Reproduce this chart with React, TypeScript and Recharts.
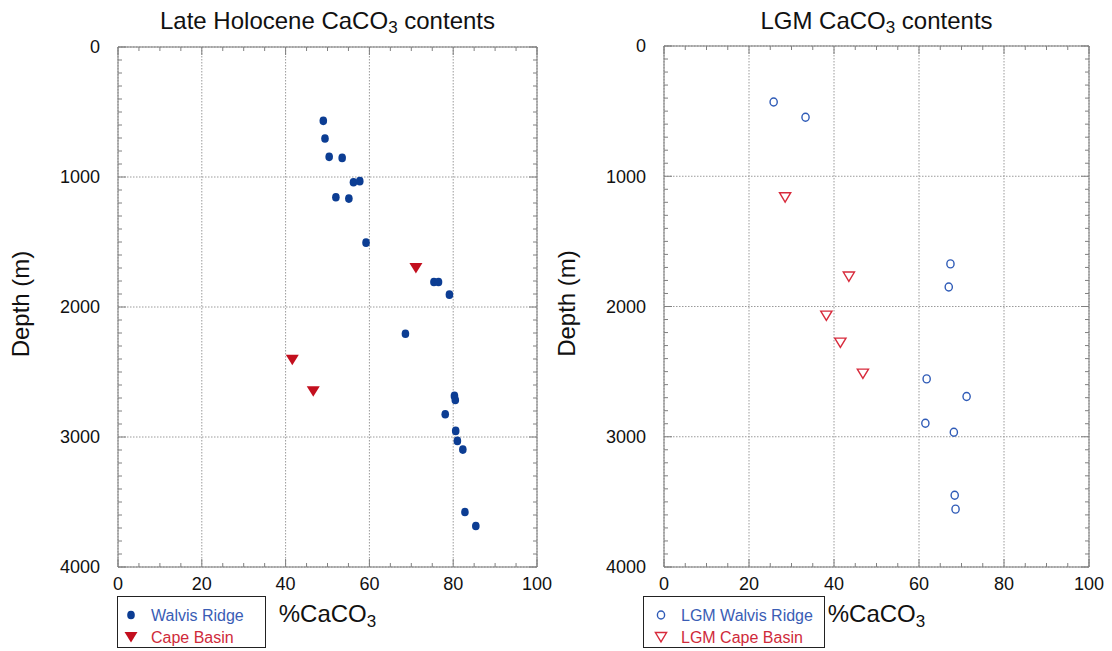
import React from 'react';
import { ScatterChart, Scatter, XAxis, YAxis, CartesianGrid, ReferenceArea } from 'recharts';

const FONT = '"Liberation Sans", Arial, Helvetica, sans-serif';

// Late Holocene, %CaCO3 vs. depth (m)
const holWalvisPct = [49.0, 49.4, 50.4, 53.5, 56.2, 57.7, 52.0, 55.1, 59.2, 75.4, 76.5, 79.1, 68.6, 80.3, 80.5, 78.1, 80.6, 81.0, 82.3, 82.8, 85.4];
const holWalvisDepth = [568, 704, 845, 853, 1040, 1032, 1156, 1166, 1505, 1808, 1808, 1905, 2206, 2684, 2715, 2825, 2953, 3030, 3097, 3577, 3685];
const holCapePct = [71.1, 41.6, 46.6];
const holCapeDepth = [1700, 2406, 2648];

// LGM
const lgmWalvisPct = [25.8, 33.3, 67.4, 67.0, 61.8, 71.2, 61.5, 68.2, 68.4, 68.6];
const lgmWalvisDepth = [430, 547, 1673, 1850, 2556, 2691, 2896, 2965, 3449, 3556];
const lgmCapePct = [28.5, 43.5, 38.2, 41.5, 46.8];
const lgmCapeDepth = [1161, 1770, 2070, 2277, 2515];

const pctTicks = [0, 20, 40, 60, 80, 100];
const depthTicks = [0, 1000, 2000, 3000, 4000];
const pctMinor = Array.from({ length: 21 }, (_, i) => i * 5);
const depthMinor = Array.from({ length: 41 }, (_, i) => i * 100);
const PCT_MAX = 100;
const DEPTH_MAX = 4000;

const zip = (pct: number[], depth: number[]) => pct.map((p, i) => ({ pct: p, depth: depth[i] }));

const BLUE = '#0c3d93';
const RED = '#c30f1e';
const OPEN_BLUE = '#2f5bb7';
const OPEN_RED = '#d82b3c';
const TEXT_BLUE = '#3a5db5';
const TEXT_RED = '#cf2a3a';
const TICK_GRAY = '#808080';
const CHART_H = 651;
const X_AXIS_H = 84;
const RIGHT_PAD = 23;

const Dot = ({ cx, cy }: any) => <ellipse cx={cx} cy={cy} rx={3.8} ry={4.3} fill={BLUE} />;
const Tri = ({ cx, cy }: any) => (
  <polygon points={`${cx - 6.5},${cy - 5} ${cx + 6.5},${cy - 5} ${cx},${cy + 5.5}`} fill={RED} />
);
const OpenDot = ({ cx, cy }: any) => (
  <ellipse cx={cx} cy={cy} rx={3.6} ry={4} fill="none" stroke={OPEN_BLUE} strokeWidth={1.4} />
);
const OpenTri = ({ cx, cy }: any) => (
  <polygon
    points={`${cx - 5.6},${cy - 4.5} ${cx + 5.6},${cy - 4.5} ${cx},${cy + 4.8}`}
    fill="none"
    stroke={OPEN_RED}
    strokeWidth={1.4}
  />
);

const xLabel = ({ viewBox }: any) => (
  <text x={viewBox.x + viewBox.width / 2} y={viewBox.y + 55} textAnchor="middle" fontSize={24} fontFamily={FONT} fill="#111">
    %CaCO<tspan fontSize={17} dy={5}>3</tspan>
  </text>
);

const yLabel = ({ viewBox }: any) => {
  const x = viewBox.x + viewBox.width - 89;
  const y = viewBox.y + viewBox.height / 2 - 3;
  return (
    <text x={x} y={y} transform={`rotate(-90, ${x}, ${y})`} textAnchor="middle" fontSize={24} fontFamily={FONT} fill="#111">
      Depth (m)
    </text>
  );
};

// x ticks: inward marks on bottom and top edge, numbers only every 20 %
const makePctTick = (plotTop: number, plotBottom: number) => ({ x, y, payload }: any) => {
  const v = payload.value;
  const major = pctTicks.includes(v);
  const len = major ? 8 : 4;
  return (
    <g>
      <line x1={x} x2={x} y1={plotBottom} y2={plotBottom - len} stroke={TICK_GRAY} />
      <line x1={x} x2={x} y1={plotTop} y2={plotTop + len} stroke={TICK_GRAY} />
      {major && (
        <text x={x} y={y} dy="0.71em" textAnchor="middle" fontSize={18} fontFamily={FONT} fill="#111">
          {v}
        </text>
      )}
    </g>
  );
};

// depth ticks: inward marks on left and right edge, numbers every 1000 m
const makeDepthTick = (plotLeft: number, plotRight: number) => ({ x, y, payload }: any) => {
  const v = payload.value;
  const major = depthTicks.includes(v);
  const len = major ? 8 : 4;
  return (
    <g>
      <line x1={plotLeft} x2={plotLeft + len} y1={y} y2={y} stroke={TICK_GRAY} />
      <line x1={plotRight} x2={plotRight - len} y1={y} y2={y} stroke={TICK_GRAY} />
      {major && (
        <text x={x} y={y} dy="0.355em" textAnchor="end" fontSize={18} fontFamily={FONT} fill="#111">
          {v}
        </text>
      )}
    </g>
  );
};

// grid only at the labelled values
const gridX = ({ offset }: any) => pctTicks.map((v) => offset.left + (v / PCT_MAX) * offset.width);
const gridY = ({ offset }: any) => depthTicks.map((v) => offset.top + (v / DEPTH_MAX) * offset.height);

type Series = { data: { pct: number; depth: number }[]; shape: any };
type LegendItem = { label: string; color: string; marker: any };

interface PanelProps {
  left: number;
  width: number;
  axisWidth: number;
  top: number;
  title: string;
  series: Series[];
  legend: LegendItem[];
  legendLeft: number;
  legendWidth: number;
  legendTextX: number;
}

const Panel = ({ left, width, axisWidth, top, title, series, legend, legendLeft, legendWidth, legendTextX }: PanelProps) => {
  const plotRight = width - RIGHT_PAD;
  const plotBottom = CHART_H - X_AXIS_H;
  const plotCenter = left + (axisWidth + plotRight) / 2;
  return (
    <>
      <div
        style={{
          position: 'absolute',
          left: plotCenter - 250,
          top: 7,
          width: 500,
          textAlign: 'center',
          fontFamily: FONT,
          fontSize: 24,
          lineHeight: '28px',
          color: '#111',
        }}
      >
        {title}
        <span style={{ fontSize: 17, position: 'relative', top: 4 }}>3</span> contents
      </div>
      <div style={{ position: 'absolute', left, top: 0 }}>
        <ScatterChart width={width} height={CHART_H} margin={{ top, right: RIGHT_PAD, bottom: 0, left: 0 }}>
          <CartesianGrid
            stroke="#9a9a9a"
            strokeDasharray="1.5 1.5"
            verticalCoordinatesGenerator={gridX}
            horizontalCoordinatesGenerator={gridY}
          />
          <XAxis
            type="number"
            dataKey="pct"
            domain={[0, PCT_MAX]}
            ticks={pctMinor}
            interval={0}
            tickLine={false}
            axisLine={false}
            tickSize={0}
            tickMargin={10}
            height={X_AXIS_H}
            tick={makePctTick(top, plotBottom)}
            label={{ content: xLabel }}
          />
          <YAxis
            type="number"
            dataKey="depth"
            domain={[0, DEPTH_MAX]}
            reversed
            ticks={depthMinor}
            interval={0}
            tickLine={false}
            axisLine={false}
            tickSize={0}
            tickMargin={18}
            width={axisWidth}
            tick={makeDepthTick(axisWidth, plotRight)}
            label={{ content: yLabel }}
          />
          <ReferenceArea x1={0} x2={PCT_MAX} y1={0} y2={DEPTH_MAX} fill="none" stroke="#7a7a7a" strokeWidth={1} ifOverflow="visible" />
          {series.map((s, i) => (
            <Scatter key={i} data={s.data} shape={s.shape} isAnimationActive={false} />
          ))}
        </ScatterChart>
      </div>
      <div
        style={{
          position: 'absolute',
          left: legendLeft,
          top: 596,
          width: legendWidth,
          height: 52,
          boxSizing: 'border-box',
          border: '1px solid #222',
          background: '#fff',
          fontFamily: FONT,
          fontSize: 16,
          lineHeight: '16px',
        }}
      >
        {legend.map((item, i) => (
          <React.Fragment key={item.label}>
            <svg width={20} height={16} style={{ position: 'absolute', left: legendTextX - 31, top: 10 + i * 22 }}>
              {item.marker({ cx: 10, cy: 8 })}
            </svg>
            <span style={{ position: 'absolute', left: legendTextX - 1, top: 10.5 + i * 22, color: item.color, whiteSpace: 'nowrap' }}>
              {item.label}
            </span>
          </React.Fragment>
        ))}
      </div>
    </>
  );
};

export default function App() {
  return (
    <div style={{ position: 'absolute', left: 0, top: 0, width: 1112, height: 651, background: '#fff', overflow: 'hidden' }}>
      <Panel
        left={0}
        width={560}
        axisWidth={118}
        top={47}
        title="Late Holocene CaCO"
        series={[
          { data: zip(holWalvisPct, holWalvisDepth), shape: Dot },
          { data: zip(holCapePct, holCapeDepth), shape: Tri },
        ]}
        legend={[
          { label: 'Walvis Ridge', color: TEXT_BLUE, marker: Dot },
          { label: 'Cape Basin', color: TEXT_RED, marker: Tri },
        ]}
        legendLeft={117}
        legendWidth={149}
        legendTextX={34}
      />
      <Panel
        left={545}
        width={567}
        axisWidth={119}
        top={46}
        title="LGM CaCO"
        series={[
          { data: zip(lgmWalvisPct, lgmWalvisDepth), shape: OpenDot },
          { data: zip(lgmCapePct, lgmCapeDepth), shape: OpenTri },
        ]}
        legend={[
          { label: 'LGM Walvis Ridge', color: TEXT_BLUE, marker: OpenDot },
          { label: 'LGM Cape Basin', color: TEXT_RED, marker: OpenTri },
        ]}
        legendLeft={643}
        legendWidth={182}
        legendTextX={38}
      />
    </div>
  );
}
